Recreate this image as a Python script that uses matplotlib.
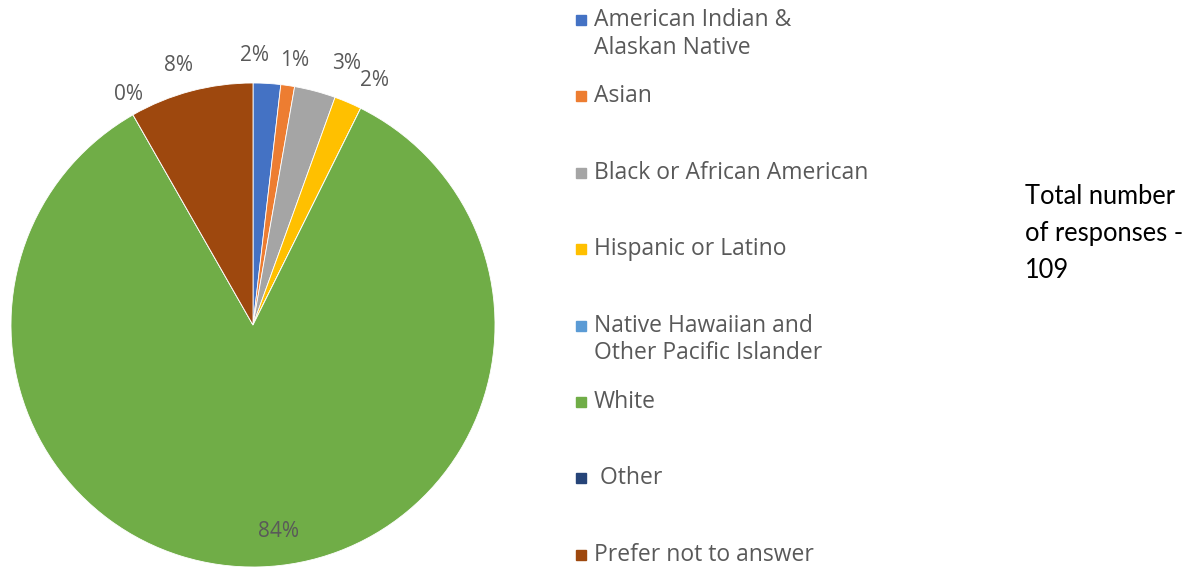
import numpy as np
import matplotlib.pyplot as plt
from matplotlib.patches import Rectangle

# responses per group (109 total)
groups = ['American Indian &\nAlaskan Native', 'Asian', 'Black or African American',
          'Hispanic or Latino', 'Native Hawaiian and\nOther Pacific Islander', 'White',
          ' Other', 'Prefer not to answer']
counts = [2, 1, 3, 2, 0, 92, 0, 9]
colors = ['#4472C4', '#ED7D31', '#A5A5A5', '#FFC000', '#5B9BD5', '#70AD47', '#264478', '#9E480E']
pct_labels = ['2%', '1%', '3%', '2%', '', '84%', '0%', '8%']

W, H = 1199, 574
fig = plt.figure(figsize=(W / 100, H / 100), dpi=100)
plt.rcParams['font.family'] = ['Open Sans', 'DejaVu Sans']

cx, cy, r = 253, 325, 242
ax = fig.add_axes([(cx - r) / W, (H - cy - r) / H, 2 * r / W, 2 * r / H])
wedges, _ = ax.pie(counts, colors=colors, startangle=90, counterclock=False,
                   wedgeprops=dict(edgecolor='white', linewidth=0.6))
ax.set_xlim(-1, 1)
ax.set_ylim(-1, 1)
ax.axis('off')

# percentage labels (some nudged like the original layout)
nudge = {0: (-0.06, -0.015), 1: (0.01, -0.025), 2: (0.095, -0.01), 3: (0.06, -0.03),
         5: (0.08, -0.035), 6: (0.045, -0.03), 7: (-0.02, -0.02)}
for i, w in enumerate(wedges):
    if not pct_labels[i]:
        continue
    ang = np.deg2rad((w.theta1 + w.theta2) / 2)
    dist = 0.82 if counts[i] > 50 else 1.13
    x = dist * np.cos(ang) + nudge.get(i, (0, 0))[0]
    y = dist * np.sin(ang) + nudge.get(i, (0, 0))[1]
    ax.text(x, y, pct_labels[i], ha='center', va='center', fontsize=15, color='#595959')

# legend drawn as a column of squares + labels
for i, (g, c) in enumerate(zip(groups, colors)):
    ytop = 18 + i * 76.4
    fig.patches.append(Rectangle((576 / W, 1 - (ytop + 7) / H), 10 / W, 10 / H,
                                 transform=fig.transFigure, color=c))
    fig.text(594 / W, 1 - (ytop - 10) / H, g, ha='left', va='top', fontsize=16.5,
             color='#595959', linespacing=1.2)

fig.text(1025 / W, 1 - 184 / H, 'Total number\nof responses -\n109', ha='left', va='top',
         fontsize=18.4, color='black', family=['Lato', 'DejaVu Sans'], linespacing=1.6)

fig.savefig('out.png', dpi=100)
